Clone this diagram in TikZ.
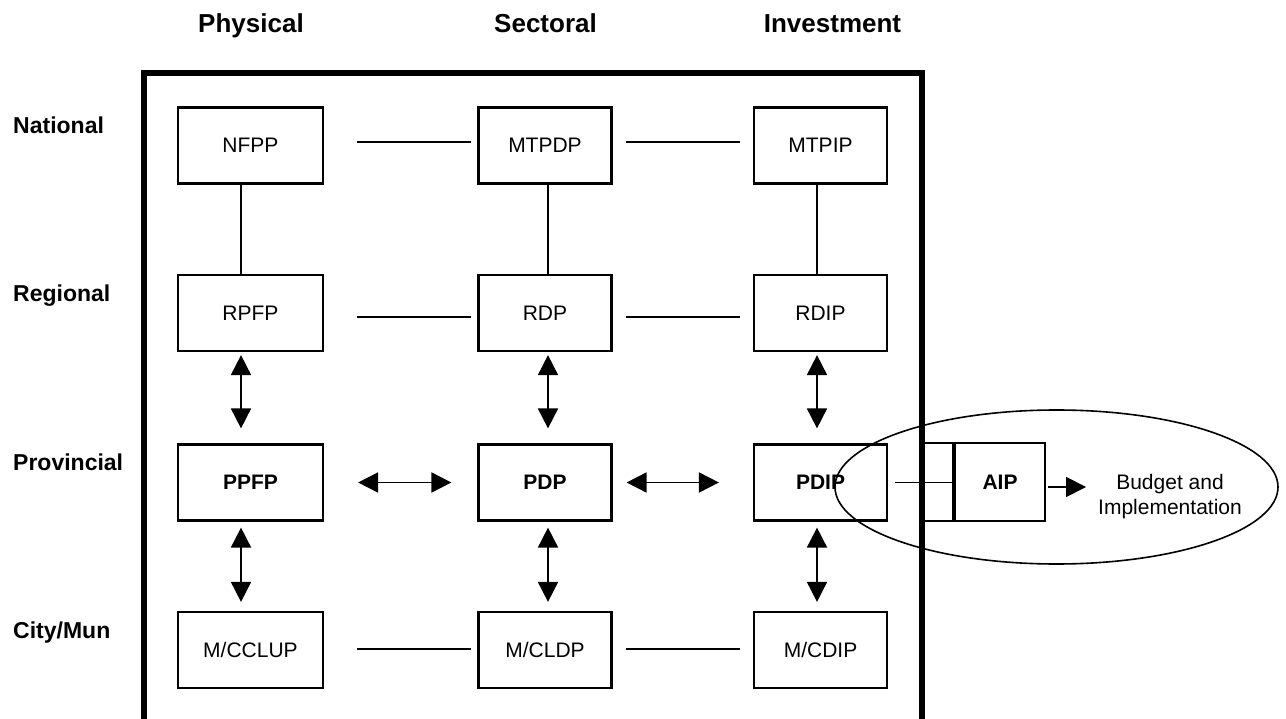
\documentclass[tikz,border=0pt]{standalone}
\usepackage{fontspec}
\setmainfont{Liberation Sans}
\usetikzlibrary{arrows.meta,shapes.geometric}
\begin{document}
\begin{tikzpicture}[x=1pt,y=-1pt,
  box/.style={draw,line width=2.2pt,minimum height=76pt,inner sep=0pt,font=\fontsize{21}{25}\selectfont},
  wide/.style={box,minimum width=145pt},
  narrow/.style={box,minimum width=133pt},
  conn/.style={line width=1.8pt},
  dbl/.style={conn,{Triangle[length=20pt,width=20pt]}-{Triangle[length=20pt,width=20pt]}},
  one/.style={conn,-{Triangle[length=20pt,width=20pt]}},
  head/.style={anchor=base,inner sep=0pt,font=\fontsize{26}{30}\selectfont\bfseries},
  lev/.style={anchor=base west,inner sep=0pt,font=\fontsize{23}{27}\selectfont\bfseries},
  frame/.style={line width=6pt}
]
\useasboundingbox (0,0) rectangle (1286,719);

% headers
\node[head] (hphys) at (251,33) {Physical};
\node[head] (hsect) at (545.5,33) {Sectoral};
\node[head] (hinv) at (832.5,33) {Investment};

% level labels
\node[lev] (lnat) at (13,134) {National};
\node[lev] (lreg) at (13,302) {Regional};
\node[lev] (lprov) at (13,470) {Provincial};
\node[lev] (lcity) at (13,638) {City/Mun};

% boxes
\node[wide] (nfpp) at (250.5,145.5) {NFPP};
\node[narrow] (mtpdp) at (545,145.5) {MTPDP};
\node[narrow] (mtpip) at (820.5,145.5) {MTPIP};

\node[wide] (rpfp) at (250.5,313) {RPFP};
\node[narrow] (rdp) at (545,313) {RDP};
\node[narrow] (rdip) at (820.5,313) {RDIP};

\node[wide] (ppfp) at (250.5,482.5) {\bfseries PPFP};
\node[narrow] (pdp) at (545,482.5) {\bfseries PDP};
\node[narrow] (pdip) at (820.5,482.5) {\bfseries PDIP};

\node[wide] (mcclup) at (250.5,650) {M/CCLUP};
\node[narrow] (mcldp) at (545,650) {M/CLDP};
\node[narrow] (mcdip) at (820.5,650) {M/CDIP};

\node[box,minimum width=90pt,minimum height=78pt] (aip) at (1000,482) {\bfseries AIP};
\node[box,minimum width=33pt,minimum height=78pt,anchor=east] (aipcell) at (aip.west) {};

\node[align=center,inner sep=0pt,font=\fontsize{21}{25}\selectfont] (budget) at (1170,497) {Budget and\\Implementation};

\node[draw,ellipse,line width=1.6pt,minimum width=443pt,minimum height=154pt,inner sep=0pt] (ell) at (1056.5,487) {};

% horizontal links
\draw[conn,shorten <=33pt,shorten >=6pt] ([yshift=3.5pt]nfpp.east) -- ([yshift=3.5pt]mtpdp.west);
\draw[conn,shorten <=13pt,shorten >=13pt] ([yshift=3.5pt]mtpdp.east) -- ([yshift=3.5pt]mtpip.west);
\draw[conn,shorten <=33pt,shorten >=6pt] ([yshift=-4pt]rpfp.east) -- ([yshift=-4pt]rdp.west);
\draw[conn,shorten <=13pt,shorten >=13pt] ([yshift=-4pt]rdp.east) -- ([yshift=-4pt]rdip.west);
\draw[dbl,shorten <=34pt,shorten >=26pt] (ppfp.east) -- (pdp.west);
\draw[dbl,shorten <=14pt,shorten >=34pt] (pdp.east) -- (pdip.west);
\draw[conn,shorten <=33pt,shorten >=6pt] ([yshift=1pt]mcclup.east) -- ([yshift=1pt]mcldp.west);
\draw[conn,shorten <=13pt,shorten >=13pt] ([yshift=1pt]mcldp.east) -- ([yshift=1pt]mcdip.west);

% vertical links
\draw[conn] ([xshift=-9.5pt]nfpp.south) -- ([xshift=-9.5pt]rpfp.north);
\draw[conn] ([xshift=3pt]mtpdp.south) -- ([xshift=3pt]rdp.north);
\draw[conn] ([xshift=-3.5pt]mtpip.south) -- ([xshift=-3.5pt]rdip.north);

\draw[dbl,shorten <=3pt,shorten >=15pt] ([xshift=-9.5pt]rpfp.south) -- ([xshift=-9.5pt]ppfp.north);
\draw[dbl,shorten <=3pt,shorten >=15pt] ([xshift=3pt]rdp.south) -- ([xshift=3pt]pdp.north);
\draw[dbl,shorten <=3pt,shorten >=15pt] ([xshift=-3.5pt]rdip.south) -- ([xshift=-3.5pt]pdip.north);

\draw[dbl,shorten <=6pt,shorten >=9pt] ([xshift=-9.5pt]ppfp.south) -- ([xshift=-9.5pt]mcclup.north);
\draw[dbl,shorten <=6pt,shorten >=9pt] ([xshift=3pt]pdp.south) -- ([xshift=3pt]mcldp.north);
\draw[dbl,shorten <=6pt,shorten >=9pt] ([xshift=-3.5pt]pdip.south) -- ([xshift=-3.5pt]mcdip.north);

% AIP links
\draw[conn,shorten <=7pt] (pdip.east) -- (pdip.east -| aip.west);
\draw[one,shorten <=2pt,shorten >=12pt] ([yshift=-5pt]aip.east) -- ([yshift=-5pt]aip.east -| budget.west);

% frame
\coordinate (fbl) at (144,722);
\coordinate (ftl) at (144,73.5);
\coordinate (ftr) at (922,73.5);
\coordinate (fbr) at (922,722);
\draw[frame] (fbl) -- (ftl) -- (ftr) -- (fbr);
\end{tikzpicture}
\end{document}
